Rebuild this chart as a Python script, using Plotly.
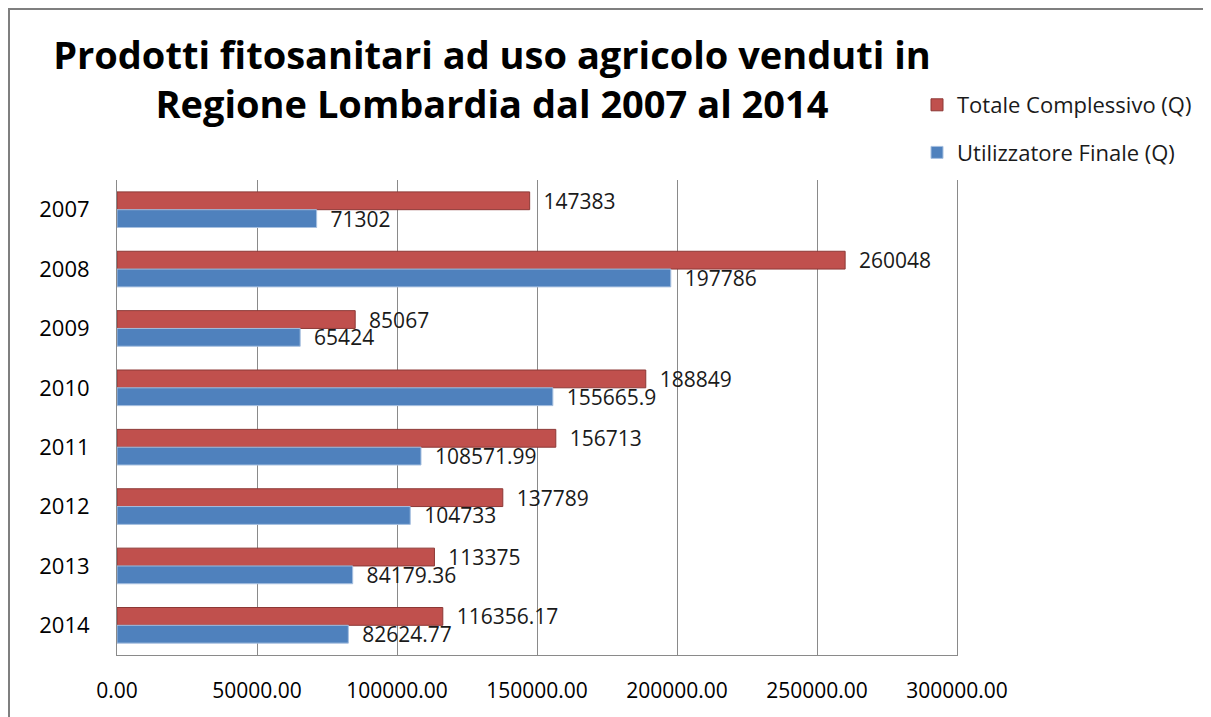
import plotly.graph_objects as go

years = ["2007", "2008", "2009", "2010", "2011", "2012", "2013", "2014"]
totale = [147383, 260048, 85067, 188849, 156713, 137789, 113375, 116356.17]
utilizzatore = [71302, 197786, 65424, 155665.9, 108571.99, 104733, 84179.36, 82624.77]
totale_labels = ["147383", "260048", "85067", "188849", "156713", "137789", "113375", "116356.17"]
utilizzatore_labels = ["71302", "197786", "65424", "155665.9", "108571.99", "104733", "84179.36", "82624.77"]
x_ticks = [0, 50000, 100000, 150000, 200000, 250000, 300000]

FONT = "Open Sans"
W, H = 1211, 717
OFF = 8  # page body margin
L, R, T, B = 117 - OFF, 957 - OFF, 180 - OFF, 655 - OFF

fig = go.Figure()
fig.add_trace(go.Bar(
    y=years, x=totale, orientation="h", name="Totale Complessivo (Q)",
    marker=dict(color="#C0504D", line=dict(color="#8C3836", width=1)),
    text=totale_labels, texttemplate="\u00a0\u00a0%{text}",
    textposition="outside", cliponaxis=False, constraintext="none",
    textfont=dict(family=FONT, size=21, color="#1a1a1a"),
    legendgroup="a",
))
fig.add_trace(go.Bar(
    y=years, x=utilizzatore, orientation="h", name="Utilizzatore Finale (Q)",
    marker=dict(color="#4F81BD", line=dict(color="#A7C0E0", width=1)),
    text=utilizzatore_labels, texttemplate="\u00a0\u00a0%{text}",
    textposition="outside", cliponaxis=False, constraintext="none",
    textfont=dict(family=FONT, size=21, color="#1a1a1a"),
    legendgroup="b",
))

pw = R - L
ph = B - T
def px(xp):
    return (xp - L) / pw
def py(yp):
    return (B - yp) / ph

fig.update_layout(
    width=W, height=H,
    margin=dict(l=L, r=W - R, t=T, b=H - B, pad=0),
    paper_bgcolor="white", plot_bgcolor="white",
    barmode="group", bargap=0.4, bargroupgap=0,
    title=dict(
        text="<b>Prodotti fitosanitari ad uso agricolo venduti in<br>Regione Lombardia dal 2007 al 2014</b>",
        x=(492 - OFF) / W, xanchor="center", xref="container",
        y=1 - 61 / H, yanchor="top", yref="container",
        font=dict(family=FONT, size=38, color="#000000"),
    ),
    font=dict(family=FONT, color="#000000"),
    legend=dict(
        x=px(917 - OFF), xanchor="left", y=py(84 - OFF), yanchor="top",
        font=dict(family=FONT, size=22, color="#1a1a1a"),
        traceorder="grouped", tracegroupgap=16,
        bgcolor="rgba(0,0,0,0)", itemwidth=30,
    ),
    xaxis=dict(
        range=[0, 300000], tickvals=x_ticks, tickformat=".2f",
        showgrid=True, gridcolor="#8a8a8a", gridwidth=1,
        zeroline=False, showline=True, linecolor="#8a8a8a", linewidth=1,
        ticks="outside", ticklen=17, tickcolor="rgba(0,0,0,0)",
        tickfont=dict(family=FONT, size=21, color="#000000"),
        fixedrange=True,
    ),
    yaxis=dict(
        autorange="reversed", showgrid=False, zeroline=False,
        showline=True, mirror=True, linecolor="#8a8a8a", linewidth=1,
        ticks="outside", ticklen=22, tickcolor="rgba(0,0,0,0)",
        tickfont=dict(family=FONT, size=22, color="#000000"),
        fixedrange=True,
    ),
    shapes=[
        dict(type="line", xref="paper", yref="paper",
             x0=px(1), x1=px(1), y0=py(0), y1=py(H), line=dict(color="#7f7f7f", width=2)),
        dict(type="line", xref="paper", yref="paper",
             x0=px(0), x1=px(W), y0=py(1), y1=py(1), line=dict(color="#7f7f7f", width=2)),
    ],
    showlegend=True,
)

fig.write_html("out.html")
